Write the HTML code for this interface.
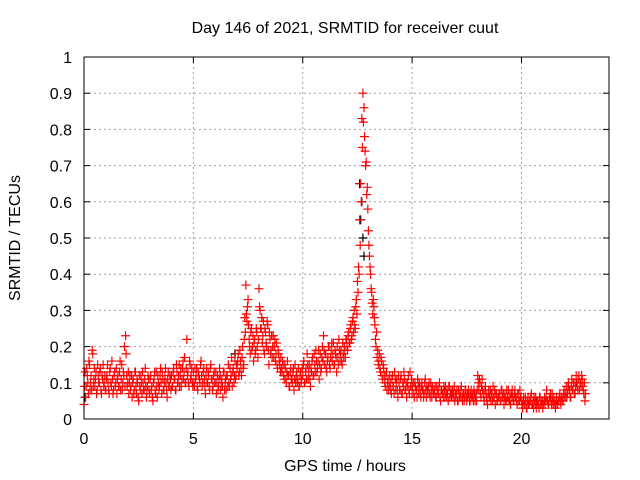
<!DOCTYPE html>
<html><head><meta charset="utf-8"><style>
body{margin:0;background:#fff;}
svg{display:block;font-family:"Liberation Sans",sans-serif;}
</style></head><body>
<svg id="chart" width="640" height="480">
<rect width="640" height="480" fill="#fff"/>
<text x="345" y="33" font-size="16" text-anchor="middle">Day 146 of 2021, SRMTID for receiver cuut</text>
<text x="345" y="471" font-size="16" text-anchor="middle">GPS time / hours</text>
<text x="20" y="238" font-size="16" text-anchor="middle" transform="rotate(-90 20 238)">SRMTID / TECUs</text>
<g id="grid"></g>
<g id="ticks"></g>
<g id="black"></g>
<g id="red"></g>
<rect x="84" y="57" width="525" height="362" fill="none" stroke="#000" stroke-width="1"/>
</svg>
<script>
const xTicks=[0,5,10,15,20];
const yTicks=[0,0.1,0.2,0.3,0.4,0.5,0.6,0.7,0.8,0.9,1];
const yTickLabels=["0","0.1","0.2","0.3","0.4","0.5","0.6","0.7","0.8","0.9","1"];
const startHour=0, stepHour=0.05, startHour2=0.025;
const redValues=[
.04,.13,.09,.12,.07,.15,.10,.08,.18,.11,.09,.13,.08,.12,.10,.14,.07,.11,.09,.12,
.08,.12,.10,.07,.14,.09,.11,.08,.13,.10,.07,.12,.09,.16,.11,.08,.13,.20,.23,.12,
.10,.07,.12,.09,.06,.11,.08,.13,.07,.10,.05,.09,.12,.07,.10,.08,.14,.06,.09,.11,
.07,.12,.09,.05,.11,.08,.13,.06,.10,.09,.14,.07,.11,.08,.12,.10,.06,.13,.09,.11,
.12,.09,.14,.11,.08,.13,.10,.15,.12,.09,.14,.11,.17,.10,.22,.13,.09,.15,.12,.10,
.13,.09,.11,.14,.08,.12,.10,.16,.09,.13,.11,.07,.14,.10,.12,.08,.15,.11,.09,.13,
.10,.07,.12,.09,.14,.08,.11,.06,.13,.10,.08,.12,.15,.09,.11,.17,.13,.10,.16,.12,
.14,.18,.13,.16,.12,.20,.15,.28,.37,.27,.33,.22,.18,.25,.20,.16,.22,.19,.24,.17,
.36,.30,.25,.21,.27,.18,.24,.20,.26,.15,.22,.19,.17,.23,.20,.16,.21,.14,.18,.15,
.17,.13,.15,.11,.14,.10,.16,.12,.09,.14,.11,.13,.08,.15,.12,.10,.14,.09,.13,.11,
.12,.16,.10,.14,.18,.11,.15,.09,.13,.17,.12,.15,.19,.13,.16,.11,.18,.14,.20,.23,
.15,.18,.13,.17,.20,.14,.19,.16,.21,.15,.18,.13,.17,.22,.16,.19,.15,.18,.20,.17,
.22,.19,.24,.21,.26,.23,.28,.30,.25,.33,.38,.42,.55,.65,.83,.90,.86,.74,.71,.64,
.52,.45,.40,.35,.29,.31,.26,.20,.17,.15,.18,.13,.16,.11,.14,.10,.12,.08,.11,.09,
.10,.07,.12,.09,.13,.08,.11,.06,.10,.08,.12,.07,.09,.11,.08,.06,.10,.08,.13,.09,
.07,.10,.06,.09,.08,.11,.07,.09,.06,.10,.08,.07,.11,.06,.08,.09,.07,.10,.06,.08,
.07,.09,.06,.08,.07,.10,.05,.08,.07,.09,.06,.07,.08,.05,.09,.07,.06,.08,.07,.05,
.06,.08,.05,.07,.06,.09,.05,.07,.06,.08,.05,.06,.07,.05,.08,.06,.05,.07,.06,.05,
.12,.08,.10,.06,.11,.07,.05,.09,.06,.04,.08,.06,.05,.07,.09,.06,.04,.07,.05,.06,
.07,.05,.08,.06,.04,.07,.05,.06,.08,.05,.04,.07,.06,.05,.08,.06,.04,.07,.05,.06,
.05,.03,.06,.04,.05,.03,.06,.04,.05,.07,.04,.03,.05,.06,.04,.05,.03,.06,.04,.05,
.04,.06,.05,.08,.05,.04,.06,.05,.07,.04,.05,.03,.06,.04,.05,.07,.04,.06,.05,.08,
.06,.09,.07,.10,.08,.06,.11,.08,.10,.07,.12,.09,.11,.08,.10,.12,.09,.07,.05
];
const redValues2=[
.09,.06,.14,.10,.16,.08,.12,.19,.09,.14,.11,.07,.15,.10,.13,.08,.12,.15,.10,.08,
.11,.15,.08,.13,.10,.16,.07,.12,.09,.14,.11,.09,.13,.08,.15,.10,.12,.09,.18,.09,
.13,.10,.08,.12,.10,.07,.13,.09,.11,.06,.12,.08,.10,.13,.08,.11,.09,.07,.12,.08,
.11,.08,.06,.10,.13,.07,.09,.12,.08,.12,.10,.13,.08,.10,.14,.08,.11,.09,.12,.08,
.09,.13,.11,.08,.15,.10,.12,.09,.14,.11,.16,.13,.10,.14,.12,.10,.16,.11,.14,.09,
.10,.14,.12,.09,.13,.11,.15,.12,.10,.14,.09,.12,.10,.13,.09,.14,.11,.08,.12,.10,
.13,.10,.08,.11,.12,.10,.09,.13,.08,.11,.12,.09,.10,.14,.12,.09,.14,.12,.11,.15,
.16,.12,.19,.14,.17,.14,.22,.24,.29,.31,.26,.20,.24,.19,.23,.21,.18,.25,.20,.22,
.31,.25,.28,.23,.19,.25,.21,.27,.19,.24,.18,.23,.20,.17,.22,.18,.15,.19,.16,.13,
.14,.16,.12,.15,.11,.13,.12,.09,.13,.11,.10,.14,.11,.10,.13,.11,.09,.12,.10,.14,
.15,.10,.13,.11,.15,.13,.11,.14,.16,.12,.18,.13,.16,.14,.19,.15,.13,.17,.16,.19,
.18,.14,.16,.20,.15,.17,.21,.18,.15,.19,.17,.20,.15,.19,.18,.16,.21,.17,.19,.22,
.20,.23,.21,.25,.22,.27,.24,.26,.31,.29,.35,.40,.48,.60,.75,.82,.78,.70,.62,.58,
.48,.42,.36,.32,.33,.28,.22,.24,.19,.16,.14,.17,.12,.15,.12,.09,.13,.10,.08,.12,
.08,.11,.09,.07,.11,.10,.08,.12,.08,.11,.07,.10,.13,.08,.10,.09,.12,.07,.09,.11,
.09,.07,.10,.08,.06,.09,.10,.07,.09,.08,.06,.10,.08,.09,.07,.10,.06,.08,.09,.07,
.08,.06,.09,.07,.09,.06,.08,.07,.06,.08,.09,.06,.07,.09,.06,.08,.07,.06,.09,.07,
.07,.05,.08,.06,.08,.06,.07,.05,.08,.06,.07,.08,.05,.07,.06,.07,.08,.05,.07,.08,
.10,.11,.07,.09,.08,.06,.08,.07,.05,.07,.06,.08,.07,.05,.06,.08,.07,.05,.06,.07,
.05,.08,.06,.07,.06,.05,.08,.06,.05,.07,.06,.08,.05,.07,.06,.05,.07,.05,.08,.06,
.04,.05,.04,.06,.03,.05,.04,.05,.06,.04,.05,.06,.04,.03,.05,.04,.06,.04,.05,.03,
.05,.04,.06,.05,.04,.06,.07,.04,.05,.06,.04,.05,.04,.05,.06,.05,.06,.05,.07,.06,
.07,.06,.09,.08,.06,.09,.08,.10,.07,.09,.10,.08,.12,.10,.09,.11,.08,.10,.07
];
const blackHours=[0.05,6.9,12.6,12.65,12.7,12.75,12.8,20.7,22.5];
const blackValues=[0.06,0.18,0.65,0.55,0.6,0.5,0.45,0.05,0.1];

const X0=84,X1=609,Y0=419,Y1=57,XMAX=24;
const xs=h=>X0+(X1-X0)*h/XMAX;
const ys=v=>Y0-(Y0-Y1)*v;
const NS="http://www.w3.org/2000/svg";
function mk(tag,attrs,parent){const e=document.createElementNS(NS,tag);for(const k in attrs)e.setAttribute(k,attrs[k]);parent.appendChild(e);return e;}
const grid=document.getElementById('grid'),ticks=document.getElementById('ticks');
xTicks.forEach(t=>{
  const x=xs(t);
  if(t>0){const g=mk('line',{x1:x,x2:x,y1:Y1,y2:Y0,stroke:'#a0a0a0','stroke-dasharray':'2,3'},grid);
  
  }
  mk('line',{x1:x,x2:x,y1:Y0,y2:Y0-6,stroke:'#000'},ticks);
  mk('line',{x1:x,x2:x,y1:Y1,y2:Y1+6,stroke:'#000'},ticks);
  const tx=mk('text',{x:x,y:444,'font-size':16,'text-anchor':'middle'},ticks);
  tx.textContent=String(t);
  
  
});
yTicks.forEach((t,i)=>{
  const y=ys(t);
  if(t>0&&t<1){const g=mk('line',{x1:X0,x2:X1,y1:y,y2:y,stroke:'#a0a0a0','stroke-dasharray':'2,3'},grid);
  
  }
  mk('line',{x1:X0,x2:X0+6,y1:y,y2:y,stroke:'#000'},ticks);
  mk('line',{x1:X1,x2:X1-6,y1:y,y2:y,stroke:'#000'},ticks);
  const tx=mk('text',{x:72,y:y+6,'font-size':16,'text-anchor':'end'},ticks);
  tx.textContent=yTickLabels[i];
  
  
});
function plus(x,y,color,parent,name){
  const p=mk('path',{d:`M${x-4.5} ${y}H${x+4.5}M${x} ${y-4.5}V${y+4.5}`,stroke:color,'stroke-width':1.2,fill:'none'},parent);
  
  
}
const bg=document.getElementById('black');
blackHours.forEach((h,i)=>plus(xs(h),ys(blackValues[i]),'#000',bg,'black-point'));
const rg=document.getElementById('red');
redValues.forEach((v,i)=>plus(xs(startHour+i*stepHour),ys(v),'#ff0000',rg,'red-point'));
redValues2.forEach((v,i)=>plus(xs(startHour2+i*stepHour),ys(v),'#ff0000',rg,'red-point'));
</script>
</body></html>
